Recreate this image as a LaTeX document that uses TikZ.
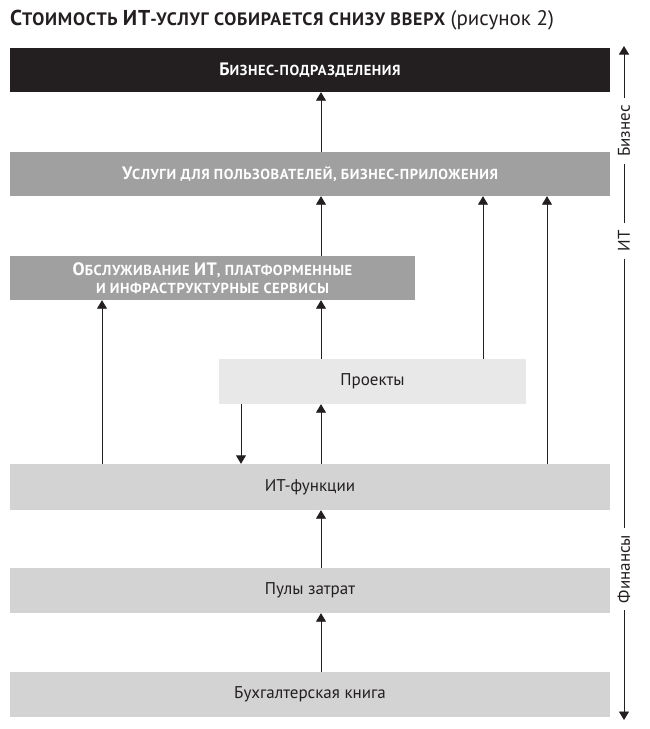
\documentclass[tikz,border=0pt]{standalone}
\usepackage{fontspec}
\setmainfont{PT Sans}
\newfontfamily\condfont[LetterSpace=4]{PT Sans}
\usetikzlibrary{arrows.meta}
\definecolor{ink}{HTML}{231F20}
\definecolor{midgray}{HTML}{A0A0A0}
\definecolor{lightgray}{HTML}{D3D3D3}
\definecolor{palegray}{HTML}{E8E8E8}
\newcommand\TBig[1]{{\fontsize{21.5}{21}\selectfont #1}}
\newcommand\BBig[1]{{\fontsize{18}{18}\selectfont #1}}
\begin{document}
\begin{tikzpicture}[x=1pt,y=-1pt,
  box/.style={rectangle, inner sep=0pt, anchor=center, text=ink,
    font=\fontsize{17}{18}\selectfont},
  darkbox/.style={box, fill=ink, text=white,
    font=\condfont\bfseries\fontsize{14.5}{18}\selectfont},
  greybox/.style={box, fill=midgray, text=white,
    font=\condfont\bfseries\fontsize{14.5}{18}\selectfont, align=center},
  lowbox/.style={box, fill=lightgray},
  projbox/.style={box, fill=palegray},
  conn/.style={draw=ink, line width=0.9pt, -{Triangle[width=10pt,length=8.5pt]}},
  axlabel/.style={rotate=90, text=ink, font=\fontsize{17}{17}\selectfont, inner sep=7pt}
]
\useasboundingbox (0,0) rectangle (650,729);
\fill[white] (0,0) rectangle (650,729);

\node[anchor=base west, inner sep=0pt, text=ink] (title) at (10,25)
  {\condfont\bfseries\fontsize{18}{21}\selectfont \TBig{С}ТОИМОСТЬ \TBig{ИТ}-УСЛУГ СОБИРАЕТСЯ СНИЗУ ВВЕРХ\ \normalfont\fontsize{21}{21}\selectfont(рисунок 2)};

\node[darkbox, minimum width=600, minimum height=44] (biz) at (310,70) {\BBig{Б}ИЗНЕС-ПОДРАЗДЕЛЕНИЯ};
\node[greybox, minimum width=600, minimum height=44] (serv) at (310,174) {\BBig{У}СЛУГИ ДЛЯ ПОЛЬЗОВАТЕЛЕЙ, БИЗНЕС-ПРИЛОЖЕНИЯ};
\node[greybox, minimum width=405, minimum height=44] (plat) at (212.5,278) {\BBig{О}БСЛУЖИВАНИЕ \BBig{ИТ}, ПЛАТФОРМЕННЫЕ\\И ИНФРАСТРУКТУРНЫЕ СЕРВИСЫ};
\node[projbox, minimum width=307, minimum height=45] (proj) at (372.5,381.5) {Проекты};
\node[lowbox, minimum width=600, minimum height=46] (func) at (310,487) {ИТ-функции};
\node[lowbox, minimum width=600, minimum height=45] (pool) at (310,590.5) {Пулы затрат};
\node[lowbox, minimum width=600, minimum height=45] (book) at (310,694.5) {Бухгалтерская книга};

% connectors
\draw[conn] (serv.north -| 321,0) -- (biz.south -| 321,0);
\draw[conn] (plat.north -| 321,0) -- (serv.south -| 321,0);
\draw[conn] (proj.north -| 483,0) -- (serv.south -| 483,0);
\draw[conn] (func.north -| 547,0) -- (serv.south -| 547,0);
\draw[conn] (proj.north -| 321,0) -- (plat.south -| 321,0);
\draw[conn] (func.north -| 102,0) -- (plat.south -| 102,0);
\draw[conn] (func.north -| 321,0) -- (proj.south -| 321,0);
\draw[conn] (proj.south -| 241,0) -- (func.north -| 241,0);
\draw[conn] (pool.north -| 321,0) -- (func.south -| 321,0);
\draw[conn] (book.north -| 321,0) -- (pool.south -| 321,0);

% side axis
\coordinate (axtop) at (624,46);
\coordinate (axbot) at (624,720);
\node[axlabel] (lbiz) at (624,131) {Бизнес};
\node[axlabel] (lit) at (624,241) {ИТ};
\node[axlabel] (lfin) at (624,569) {Финансы};
\draw[conn] (lbiz) -- (axtop);
\draw[draw=ink, line width=0.9pt] (lbiz) -- (lit);
\draw[draw=ink, line width=0.9pt] (lit) -- (lfin);
\draw[conn] (lfin) -- (axbot);
\end{tikzpicture}
\end{document}
